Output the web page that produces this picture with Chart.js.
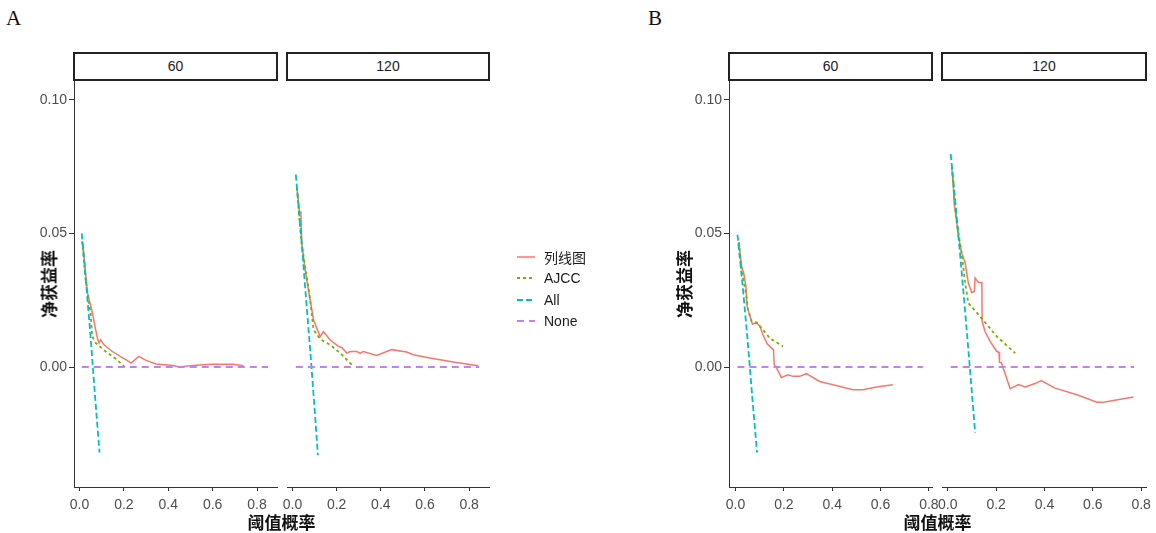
<!DOCTYPE html>
<html>
<head>
<meta charset="utf-8">
<script src="https://cdn.jsdelivr.net/npm/chart.js@4"></script>
<style>
  body { margin: 0; background: #fff; }
  #wrap { position: relative; width: 1156px; height: 533px; overflow: hidden; }
  canvas { position: absolute; }
  .tag { position: absolute; font-family: "Liberation Serif", serif; font-size: 21px; color: #111; }
  .strip { position: absolute; box-sizing: border-box; border: 2px solid #222; background: #fff;
           font-family: "Liberation Sans", Arial, sans-serif; font-size: 14px; color: #1a1a1a;
           text-align: center; line-height: 24px; }
  .ytitle { position: absolute; font-family: "Noto Sans CJK SC", sans-serif; font-weight: bold; font-size: 17px;
            color: #111; transform: translate(-50%, -50%) rotate(-90deg); white-space: nowrap; }
  .xtitle { position: absolute; font-family: "Noto Sans CJK SC", sans-serif; font-weight: bold; font-size: 17px;
            color: #111; transform: translate(-50%, -50%); white-space: nowrap; }
  #legend { position: absolute; left: 517px; top: 246px; font-size: 14px; color: #1a1a1a; }
  #legend div { height: 21.5px; display: flex; align-items: center; }
  #legend svg { margin-right: 9px; }
  #legend span { font-family: "Liberation Sans", "Noto Sans CJK SC", sans-serif; }
</style>
</head>
<body>
<div id="wrap"></div>
<script>
// shared tick labels / series
const thresholdTicks = [0, 0.2, 0.4, 0.6, 0.8];
const netBenefitTicks = [0, 0.05, 0.10];
const facetLabels = ["60", "120"];
const seriesNames = ["列线图", "AJCC", "All", "None"];
const seriesColors = ["#F8766D", "#7CAE00", "#00BFC4", "#C77CFF"];

// panel A, 60
const a60Nomogram = [[0.012,0.047],[0.02,0.042],[0.035,0.028],[0.047,0.024],[0.056,0.021],[0.07,0.015],[0.08,0.011],[0.088,0.009],[0.095,0.0102],[0.11,0.0083],[0.148,0.0058],[0.194,0.0034],[0.209,0.0028],[0.232,0.0015],[0.267,0.004],[0.3,0.0025],[0.345,0.0011],[0.421,0.0006],[0.451,0],[0.497,0.0005],[0.588,0.001],[0.694,0.001],[0.739,0.0005]];
const a60Ajcc = [[0.012,0.047],[0.027,0.033],[0.05,0.020],[0.057,0.0115],[0.073,0.009],[0.118,0.0058],[0.164,0.003],[0.209,-0.0004]];
const a60All = [[0.01,0.050],[0.03,0.031],[0.05,0.011],[0.07,-0.011],[0.09,-0.032]];
const a60None = [[0.01,0],[0.85,0]];

// panel A, 120
const a120Nomogram = [[0.02,0.067],[0.032,0.058],[0.038,0.058],[0.042,0.0464],[0.057,0.0364],[0.072,0.0289],[0.095,0.0177],[0.125,0.0114],[0.14,0.0133],[0.17,0.0102],[0.208,0.0077],[0.223,0.0073],[0.246,0.0052],[0.261,0.0058],[0.291,0.0058],[0.306,0.0052],[0.321,0.0058],[0.381,0.0043],[0.449,0.0065],[0.517,0.0056],[0.547,0.0046],[0.622,0.0034],[0.728,0.0019],[0.841,0.0005]];
const a120Ajcc = [[0.02,0.067],[0.04,0.047],[0.06,0.036],[0.08,0.0252],[0.095,0.014],[0.125,0.0105],[0.17,0.0083],[0.216,0.0052],[0.276,0.0002]];
const a120All = [[0.015,0.072],[0.04,0.048],[0.06,0.027],[0.08,0.0065],[0.10,-0.0156],[0.115,-0.033]];
const a120None = [[0.015,0],[0.845,0]];

// panel B, 60
const b60Nomogram = [[0.0136,0.0467],[0.025,0.0376],[0.034,0.0351],[0.043,0.0301],[0.048,0.0227],[0.062,0.0183],[0.07,0.0161],[0.087,0.0165],[0.1,0.0154],[0.114,0.012],[0.131,0.0087],[0.153,0.0067],[0.157,0.0065],[0.16,0.0009],[0.167,0],[0.19,-0.0039],[0.217,-0.0029],[0.238,-0.0035],[0.265,-0.0035],[0.293,-0.0025],[0.348,-0.0054],[0.403,-0.0066],[0.486,-0.0085],[0.527,-0.0085],[0.583,-0.0075],[0.651,-0.0066]];
const b60Ajcc = [[0.0136,0.0467],[0.025,0.036],[0.043,0.0277],[0.052,0.0214],[0.066,0.0171],[0.087,0.0167],[0.107,0.0146],[0.142,0.0108],[0.197,0.0077]];
const b60All = [[0.008,0.0495],[0.03,0.030],[0.05,0.010],[0.07,-0.012],[0.089,-0.032]];
const b60None = [[0.008,0],[0.775,0]];

// panel B, 120
const b120Nomogram = [[0.0165,0.075],[0.023,0.0675],[0.026,0.0613],[0.034,0.0563],[0.044,0.0488],[0.058,0.0426],[0.072,0.0389],[0.085,0.0314],[0.099,0.0279],[0.11,0.0283],[0.113,0.0333],[0.127,0.0316],[0.141,0.0316],[0.142,0.0171],[0.154,0.0133],[0.175,0.0096],[0.203,0.0058],[0.212,0.0055],[0.214,0.0017],[0.222,0.0016],[0.258,-0.0081],[0.292,-0.0066],[0.32,-0.0075],[0.361,-0.0062],[0.386,-0.0051],[0.444,-0.0079],[0.534,-0.0104],[0.617,-0.0132],[0.644,-0.0132],[0.768,-0.0112]];
const b120Ajcc = [[0.0165,0.075],[0.034,0.056],[0.058,0.042],[0.072,0.0314],[0.085,0.0239],[0.134,0.0189],[0.203,0.0114],[0.279,0.0052]];
const b120All = [[0.012,0.0797],[0.03,0.063],[0.05,0.043],[0.07,0.0226],[0.09,0.0011],[0.113,-0.0245]];
const b120None = [[0.012,0],[0.771,0]];

const dashes = [[], [3, 3], [6, 3], [7, 5]];
const widths = [1.5, 1.8, 1.8, 1.8];

const wrap = document.getElementById("wrap");
const plotTop = 80, plotBottom = 487;
const yMin = -0.0449, yMax = 0.1074;
const padL = 14, padR = 24, padT = 14, yAxisW = 46, xAxisH = 32;

function addDiv(cls, text, style) {
    const d = document.createElement("div");
    d.className = cls;
    d.textContent = text;
    Object.assign(d.style, style);
    wrap.appendChild(d);
    return d;
}

function drawFacet(f) {
    const hasY = f.showY;
    const left = f.plotLeft - padL - (hasY ? yAxisW : 0);
    const width = padL + (hasY ? yAxisW : 0) + (f.plotRight - f.plotLeft) + padR;
    const height = padT + (plotBottom - plotTop) + xAxisH;
    const canvas = document.createElement("canvas");
    canvas.width = width;
    canvas.height = height;
    canvas.style.left = left + "px";
    canvas.style.top = (plotTop - padT) + "px";
    wrap.appendChild(canvas);

    addDiv("strip", f.label, {
        left: (f.plotLeft - 1) + "px", top: "52px",
        width: (f.plotRight - f.plotLeft + 2) + "px", height: "29px"
    });

    const tickFont = { family: "'Liberation Sans', Arial, sans-serif", size: 14 };
    new Chart(canvas.getContext("2d"), {
        type: "line",
        data: {
            datasets: f.series.map((pts, i) => ({
                label: seriesNames[i],
                data: pts.map(p => ({ x: p[0], y: p[1] })),
                borderColor: seriesColors[i],
                borderWidth: widths[i],
                borderDash: dashes[i],
                pointRadius: 0,
                tension: 0,
                fill: false,
                order: 4 - i
            }))
        },
        options: {
            responsive: false,
            animation: false,
            layout: { padding: { left: padL, right: padR, top: padT, bottom: 0 } },
            plugins: { legend: { display: false }, tooltip: { enabled: false } },
            scales: {
                x: {
                    type: "linear",
                    min: f.xMin, max: f.xMax,
                    afterBuildTicks: s => { s.ticks = thresholdTicks.map(v => ({ value: v })); },
                    afterFit: s => { s.height = xAxisH; },
                    ticks: { color: "#4D4D4D", font: tickFont, padding: 6,
                             callback: v => v.toFixed(1), maxRotation: 0 },
                    grid: { drawOnChartArea: false, drawTicks: true, tickLength: 4, color: "#333" },
                    border: { display: true, color: "#333", width: 1 }
                },
                y: {
                    type: "linear",
                    display: hasY,
                    min: yMin, max: yMax,
                    afterBuildTicks: s => { s.ticks = netBenefitTicks.map(v => ({ value: v })); },
                    afterFit: s => { if (hasY) s.width = yAxisW; },
                    ticks: { color: "#4D4D4D", font: tickFont, padding: 2,
                             callback: v => v.toFixed(2) },
                    grid: { drawOnChartArea: false, drawTicks: true, tickLength: 5, color: "#333" },
                    border: { display: true, color: "#333", width: 1 }
                }
            }
        }
    });
}

const panels = [
    { tag: "A", tagX: 6, yTitleX: 48, facets: [
        { label: facetLabels[0], showY: true, plotLeft: 74, plotRight: 277, xMin: -0.025, xMax: 0.89,
          series: [a60Nomogram, a60Ajcc, a60All, a60None] },
        { label: facetLabels[1], showY: false, plotLeft: 287, plotRight: 489, xMin: -0.025, xMax: 0.89,
          series: [a120Nomogram, a120Ajcc, a120All, a120None] }
    ]},
    { tag: "B", tagX: 648, yTitleX: 683, facets: [
        { label: facetLabels[0], showY: true, plotLeft: 729, plotRight: 932, xMin: -0.027, xMax: 0.813,
          series: [b60Nomogram, b60Ajcc, b60All, b60None] },
        { label: facetLabels[1], showY: false, plotLeft: 942, plotRight: 1146, xMin: -0.024, xMax: 0.82,
          series: [b120Nomogram, b120Ajcc, b120All, b120None] }
    ]}
];

panels.forEach(p => {
    addDiv("tag", p.tag, { left: p.tagX + "px", top: "6px" });
    p.facets.forEach(drawFacet);
    addDiv("ytitle", "净获益率", { left: p.yTitleX + "px", top: "284px" });
    const cx = (p.facets[0].plotLeft + p.facets[1].plotRight) / 2;
    addDiv("xtitle", "阈值概率", { left: cx + "px", top: "521px" });
});

// legend
const legend = document.createElement("div");
legend.id = "legend";
seriesNames.forEach((name, i) => {
    const row = document.createElement("div");
    const dash = dashes[i].length ? dashes[i].join(",") : "none";
    row.innerHTML = '<svg width="18" height="4"><line x1="0" y1="2" x2="18" y2="2" stroke="' + seriesColors[i] +
        '" stroke-width="' + widths[i] + '" stroke-dasharray="' + dash + '"/></svg><span>' + name + '</span>';
    legend.appendChild(row);
});
wrap.appendChild(legend);
</script>
</body>
</html>
